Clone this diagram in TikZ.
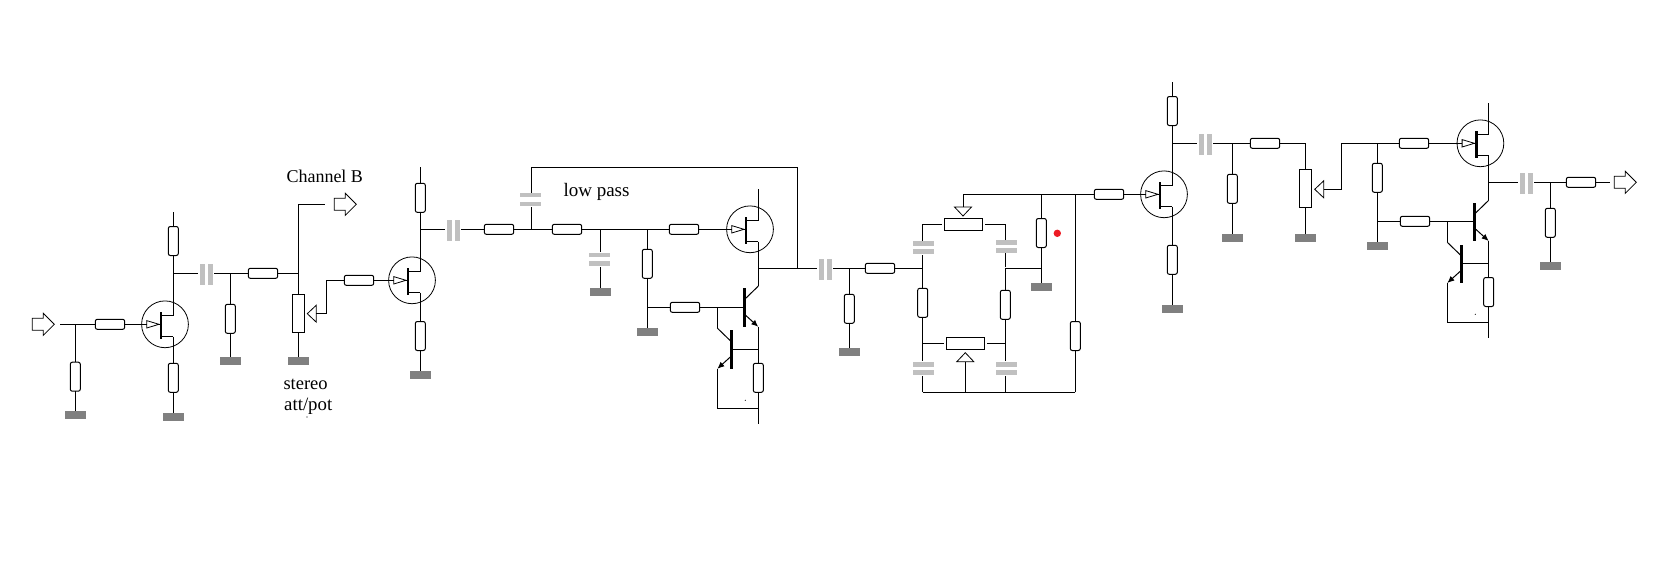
\documentclass[tikz,border=0pt]{standalone}
\usepackage{fontspec}
\setmainfont{Liberation Serif}
\usetikzlibrary{arrows.meta}
\definecolor{gndgray}{HTML}{808080}
\definecolor{capgray}{HTML}{C0C0C0}
\definecolor{dotred}{HTML}{ED1C24}
\tikzset{
  wire/.style={line width=1pt},
  res/.style={draw,line width=1pt,rounded corners=2pt,minimum width=29.4pt,minimum height=10pt,inner sep=0pt,outer sep=0pt},
  vres/.style={res,minimum width=10pt,minimum height=29pt},
  pot/.style={draw,line width=1pt,minimum width=38.4pt,minimum height=12.4pt,inner sep=0pt,outer sep=0pt},
  vpot/.style={pot,minimum width=12.4pt,minimum height=38.4pt},
  gnd/.style={fill=gndgray,minimum width=21pt,minimum height=8pt,inner sep=0pt,outer sep=0pt},
  capv/.style={fill=capgray,minimum width=5pt,minimum height=21pt,inner sep=0pt,outer sep=0pt},
  caph/.style={fill=capgray,minimum width=21pt,minimum height=4.6pt,inner sep=0pt,outer sep=0pt},
  fetring/.style={circle,draw,line width=0.8pt,minimum size=46.8pt,inner sep=0pt,outer sep=0pt},
  fetbar/.style={fill=black,minimum width=2.8pt,minimum height=27pt,inner sep=0pt,outer sep=0pt},
  bjtbar/.style={fill=black,minimum width=3pt,minimum height=38.4pt,inner sep=0pt,outer sep=0pt},
  speck/.style={circle,fill=black,minimum size=1.2pt,inner sep=0pt},
  lbl/.style={anchor=base west,inner sep=0pt,font=\fontsize{18}{18}\selectfont}
}
% name, x, y
\newcommand{\jfet}[3]{
  \node[fetring] (#1) at (#2,#3) {};
  \node[fetbar] (#1b) at ({#2-4},{#3+1}) {};
  \coordinate (#1g) at ({#2-18.3},#3);
  \coordinate (#1d) at ({#2+8.3},{#3-8.6});
  \coordinate (#1s) at ({#2+8.3},{#3+12.4});
  \draw[wire] (#1b.east |- #1d) -- (#1d);
  \draw[wire] (#1b.east |- #1s) -- (#1s);
  \draw[line width=0.8pt] (#1g) -- ++(0,3.7) -- ++(12.3,-3.7) -- ++(-12.3,-3.7) -- cycle;
  \draw[wire] ({#2-6},#3) -- (#1b.west |- #1g);
}
% name, x, y, side
\newcommand{\bjt}[4]{
  \node[bjtbar] (#1) at (#2,#3) {};
  \coordinate (#1ci) at ({#2+#4*1},{#3-8.8});
  \coordinate (#1ei) at ({#2+#4*1},{#3+7.5});
  \coordinate (#1c) at ({#2+#4*14},{#3-21.4});
  \coordinate (#1e) at ({#2+#4*14},{#3+19.3});
  \draw[wire] (#1ci) -- (#1c);
  \draw[wire,-{Latex[length=7pt,width=6pt]}] (#1ei) -- (#1e);
}
% name, tip x, tip y, direction x, direction y
\newcommand{\wiper}[5]{
  \coordinate (#1) at ({#2+9*#4},{#3+9*#5});
  \draw[line width=0.8pt] (#2,#3) -- ({#2+9*#4+8.5*#5},{#3+9*#5+8.5*#4}) -- ({#2+9*#4-8.5*#5},{#3+9*#5-8.5*#4}) -- cycle;
}
% left x, y
\newcommand{\sigarrow}[2]{
  \draw[line width=0.8pt] (#1,{#2-6}) -- ({#1+11},{#2-6}) -- ({#1+11},{#2-11}) -- ({#1+22},#2) -- ({#1+11},{#2+11}) -- ({#1+11},{#2+6}) -- (#1,{#2+6}) -- cycle;
}
\begin{document}
\begin{tikzpicture}[x=1pt,y=-1pt]
  \useasboundingbox (0,0) rectangle (1670,586);

  % first stage
  \jfet{QA}{165.0}{324.3}
  \jfet{QB}{412.0}{280.3}
  \sigarrow{32.3}{324.3}
  \sigarrow{334.3}{204.3}
  \node[res]  (RA1) at ( 110.0,324.3) {};
  \node[vres] (RA2) at (  75.3,376.7) {};
  \node[vres] (RA3) at ( 173.3,241.0) {};
  \node[vres] (RA4) at ( 173.3,377.8) {};
  \node[res]  (RA5) at ( 263.0,273.3) {};
  \node[vres] (RA6) at ( 230.3,318.8) {};
  \node[vpot] (PA)  at ( 298.3,313.5) {};
  \node[gnd]  (GA1) at (  75.3,414.8) {};
  \node[gnd]  (GA2) at ( 173.3,417.0) {};
  \node[gnd]  (GA3) at ( 230.3,361.2) {};
  \node[gnd]  (GA4) at ( 298.3,361.2) {};
  \node[capv] (CA1) at ( 202.3,274.5) {};
  \node[capv] (CA2) at ( 210.7,274.5) {};
  \node[res]  (RB1) at ( 359.0,280.3) {};
  \node[vres] (RB2) at ( 420.3,197.8) {};
  \node[vres] (RB3) at ( 420.3,336.0) {};
  \node[gnd]  (GB)  at ( 420.3,375.0) {};
  \node[speck] (SPA) at ( 307.0,417.0) {};
  \coordinate (INa) at (  60.0,324.3);
  \coordinate (XA1) at (  75.3,324.3);
  \coordinate (XA2) at ( 173.3,273.3);
  \coordinate (XA3) at ( 230.3,273.3);
  \coordinate (XA4) at ( 298.3,273.3);
  \coordinate (XA5) at ( 298.3,204.3);
  \coordinate (CHB) at ( 325.0,204.3);
  \coordinate (TA1) at ( 173.3,212.3);
  \coordinate (TB1) at ( 420.3,167.3);
  \coordinate (XB0) at ( 326.7,280.3);
  \coordinate (XB1) at ( 420.3,229.3);
  \wiper{WA}{307.3}{313.7}{1}{0}

  \draw[wire] (INa) -- (RA1.west);
  \draw[wire] (RA1.east) -- (QAg);
  \draw[wire] (XA1) -- (RA2.north);
  \draw[wire] (RA2.south) -- (GA1.north);
  \draw[wire] (TA1) -- (RA3.north);
  \draw[wire] (RA3.south) -- (QAd);
  \draw[wire] (QAs) -- (RA4.north);
  \draw[wire] (RA4.south) -- (GA2.north);
  \draw[wire,shorten >=2pt] (XA2) -- (XA2 -| CA1.west);
  \draw[wire,shorten <=1pt] (XA2 -| CA2.east) -- (RA5.west);
  \draw[wire] (RA5.east) -- (XA4);
  \draw[wire] (XA3) -- (RA6.north);
  \draw[wire] (RA6.south) -- (GA3.north);
  \draw[wire] (XA5) -- (PA.north);
  \draw[wire] (XA5) -- (CHB);
  \draw[wire] (PA.south) -- (GA4.north);
  \draw[wire] (WA) -| (XB0) -- (RB1.west);
  \draw[wire] (RB1.east) -- (QBg);
  \draw[wire] (TB1) -- (RB2.north);
  \draw[wire] (RB2.south) -- (QBd);
  \draw[wire] (QBs) -- (RB3.north);
  \draw[wire] (RB3.south) -- (GB.north);

  % low pass stage
  \jfet{QC}{750.0}{229.3}
  \bjt{TA}{744.3}{307.5}{1}
  \bjt{TB}{731.3}{349.5}{-1}
  \node[capv] (CB1) at ( 449.5,230.5) {};
  \node[capv] (CB2) at ( 457.5,230.5) {};
  \node[res]  (RC1) at ( 499.0,229.3) {};
  \node[caph] (CC1) at ( 530.5,195.0) {};
  \node[caph] (CC2) at ( 530.5,203.8) {};
  \node[res]  (RC2) at ( 567.0,229.3) {};
  \node[caph] (CD1) at ( 599.5,255.0) {};
  \node[caph] (CD2) at ( 599.5,263.5) {};
  \node[gnd]  (GC1) at ( 600.3,292.0) {};
  \node[vres] (RC3) at ( 647.3,263.8) {};
  \node[gnd]  (GC2) at ( 647.3,332.0) {};
  \node[res]  (RC4) at ( 684.0,229.3) {};
  \node[res]  (RC5) at ( 685.0,307.3) {};
  \node[vres] (RC6) at ( 758.3,377.8) {};
  \node[speck] (SPB) at ( 745.3,400.3) {};
  \coordinate (XC1) at ( 531.3,229.3);
  \coordinate (XC2) at ( 531.3,167.3);
  \coordinate (XC3) at ( 600.3,229.3);
  \coordinate (XC4) at ( 647.3,229.3);
  \coordinate (XC5) at ( 647.3,307.3);
  \coordinate (XC6) at ( 717.3,307.3);
  \coordinate (XC7) at ( 758.3,268.3);
  \coordinate (XC8) at ( 797.3,268.3);
  \coordinate (XC9) at ( 758.3,349.3);
  \coordinate (XC0) at ( 758.3,408.3);
  \coordinate (TC1) at ( 758.3,189.3);
  \coordinate (BC1) at ( 758.3,423.7);

  \draw[wire,shorten >=2pt] (XB1) -- (XB1 -| CB1.west);
  \draw[wire,shorten <=1pt] (XB1 -| CB2.east) -- (RC1.west);
  \draw[wire] (RC1.east) -- (RC2.west);
  \draw[wire,shorten >=1pt] (XC1) -- (XC1 |- CC2.south);
  \draw[wire] (XC1 |- CC1.north) -- (XC2) -| (XC8);
  \draw[wire] (RC2.east) -- (RC4.west);
  \draw[wire] (RC4.east) -- (QCg);
  \draw[wire,shorten >=1pt] (XC3) -- (XC3 |- CD1.north);
  \draw[wire,shorten <=1pt] (XC3 |- CD2.south) -- (GC1.north);
  \draw[wire] (XC4) -- (RC3.north);
  \draw[wire] (RC3.south) -- (GC2.north);
  \draw[wire] (XC5) -- (RC5.west);
  \draw[wire] (RC5.east) -- (TA.west |- RC5);
  \draw[wire] (XC6) -- (TBc);
  \draw[wire] (TC1) -- (QCd);
  \draw[wire] (QCs) -- (TAc);
  \draw[wire] (TAe) -- (RC6.north);
  \draw[wire] (RC6.south) -- (BC1);
  \draw[wire] (TB.east |- XC9) -- (XC9);
  \draw[wire] (TBe) |- (XC0);

  % twin t
  \jfet{QD}{1164.0}{194.3}
  \node[capv] (CE1) at ( 821.5,269.5) {};
  \node[capv] (CE2) at ( 829.7,269.5) {};
  \node[vres] (RD1) at ( 849.3,308.8) {};
  \node[gnd]  (GD1) at ( 849.3,352.0) {};
  \node[res]  (RD2) at ( 880.0,268.3) {};
  \node[pot]  (PB)  at ( 963.5,224.5) {};
  \node[pot]  (PC)  at ( 965.5,343.5) {};
  \node[caph] (CF1) at ( 923.5,243.5) {};
  \node[caph] (CF2) at ( 923.5,251.5) {};
  \node[caph] (CG1) at (1006.5,242.5) {};
  \node[caph] (CG2) at (1006.5,250.5) {};
  \node[vres] (RD3) at ( 922.7,302.8) {};
  \node[vres] (RD4) at (1005.3,304.8) {};
  \node[caph] (CH1) at ( 923.5,364.5) {};
  \node[caph] (CH2) at ( 923.5,372.5) {};
  \node[caph] (CI1) at (1006.5,364.5) {};
  \node[caph] (CI2) at (1006.5,372.5) {};
  \node[vres] (RD5) at (1075.3,336.0) {};
  \node[vres] (RD6) at (1041.3,233.0) {};
  \node[gnd]  (GD2) at (1041.3,287.0) {};
  \node[res]  (RD7) at (1109.0,194.3) {};
  \node[circle,fill=dotred,minimum size=7.4pt,inner sep=0pt] (DOT) at (1057.3,233.3) {};
  \node[vres] (RD8) at (1172.3,111.0) {};
  \node[vres] (RD9) at (1172.3,259.8) {};
  \node[gnd]  (GD3) at (1172.3,309.0) {};
  \coordinate (XD1) at ( 849.3,268.3);
  \coordinate (XD2) at ( 922.7,268.3);
  \coordinate (XD3) at ( 922.7,224.3);
  \coordinate (XD4) at (1005.3,224.3);
  \coordinate (XD5) at (1005.3,268.3);
  \coordinate (XD6) at (1041.3,268.3);
  \coordinate (XD7) at ( 922.7,343.5);
  \coordinate (XD8) at (1005.3,343.5);
  \coordinate (XD9) at ( 922.7,392.3);
  \coordinate (XE1) at (1005.3,392.3);
  \coordinate (XE2) at (1075.3,392.3);
  \coordinate (XE3) at (1075.3,194.3);
  \coordinate (XE4) at (1041.3,194.3);
  \coordinate (XE5) at ( 963.0,194.3);
  \coordinate (TD1) at (1172.3, 82.3);
  \wiper{WB}{963.0}{216.0}{0}{-1}
  \wiper{WC}{965.3}{352.7}{0}{1}

  \draw[wire,shorten >=2pt] (XC7) -- (XC7 -| CE1.west);
  \draw[wire,shorten <=1pt] (XC7 -| CE2.east) -- (RD2.west);
  \draw[wire] (XD1) -- (RD1.north);
  \draw[wire] (RD1.south) -- (GD1.north);
  \draw[wire] (RD2.east) -- (XD2);
  \draw[wire,shorten >=1pt] (XD2) -- (XD2 |- CF2.south);
  \draw[wire,shorten >=2pt] (XD2 |- CF1.north) |- (PB.west);
  \draw[wire,shorten >=2pt] (XD4 |- CG1.north) |- (PB.east);
  \draw[wire,shorten <=1pt] (XD5) -- (XD5 |- CG2.south);
  \draw[wire] (XD5) -- (XD6);
  \draw[wire] (XD2) -- (RD3.north);
  \draw[wire] (XD5) -- (RD4.north);
  \draw[wire] (RD3.south) -- (XD7);
  \draw[wire] (RD4.south) -- (XD8);
  \draw[wire,shorten >=2pt] (XD7) -- (PC.west);
  \draw[wire,shorten >=2pt] (XD8) -- (PC.east);
  \draw[wire,shorten >=1pt] (XD7) -- (XD7 |- CH1.north);
  \draw[wire,shorten >=1pt] (XD8) -- (XD8 |- CI1.north);
  \draw[wire,shorten <=1pt] (XD7 |- CH2.south) -- (XD9);
  \draw[wire,shorten <=1pt] (XD8 |- CI2.south) -- (XE1);
  \draw[wire] (XD9) -- (XE2);
  \draw[wire] (WC) -- (WC |- XD9);
  \draw[wire] (XE2) -- (RD5.south);
  \draw[wire] (RD5.north) -- (XE3);
  \draw[wire] (WB) -- (XE5) -- (RD7.west);
  \draw[wire] (XE4) -- (RD6.north);
  \draw[wire] (RD6.south) -- (GD2.north);
  \draw[wire] (RD7.east) -- (QDg);
  \draw[wire] (TD1) -- (RD8.north);
  \draw[wire] (RD8.south) -- (QDd);
  \draw[wire] (QDs) -- (RD9.north);
  \draw[wire] (RD9.south) -- (GD3.north);

  % output stage
  \jfet{QE}{1480.4}{143.3}
  \bjt{TC}{1474.7}{221.7}{1}
  \bjt{TD}{1461.3}{263.7}{-1}
  \sigarrow{1614.3}{182.3}
  \node[capv] (CK1) at (1201.5,144.5) {};
  \node[capv] (CK2) at (1209.5,144.5) {};
  \node[vres] (RF1) at (1232.3,188.8) {};
  \node[gnd]  (GF1) at (1232.3,238.0) {};
  \node[res]  (RF2) at (1265.0,143.3) {};
  \node[vpot] (PD)  at (1305.3,188.3) {};
  \node[gnd]  (GF2) at (1305.3,238.0) {};
  \node[res]  (RG1) at (1414.0,143.3) {};
  \node[vres] (RG2) at (1377.3,177.8) {};
  \node[gnd]  (GG)  at (1377.3,246.0) {};
  \node[res]  (RG3) at (1415.0,221.3) {};
  \node[vres] (RG4) at (1488.7,292.0) {};
  \node[capv] (CL1) at (1522.5,183.5) {};
  \node[capv] (CL2) at (1530.5,183.5) {};
  \node[vres] (RH1) at (1550.3,222.8) {};
  \node[gnd]  (GH)  at (1550.3,266.0) {};
  \node[res]  (RH2) at (1581.0,182.3) {};
  \node[speck] (SPC) at (1475.3,314.3) {};
  \coordinate (XF1) at (1172.3,143.3);
  \coordinate (XF2) at (1232.3,143.3);
  \coordinate (XF3) at (1305.3,143.3);
  \coordinate (XF4) at (1341.3,143.3);
  \coordinate (XF5) at (1377.3,143.3);
  \coordinate (XF6) at (1377.3,221.3);
  \coordinate (XF7) at (1447.3,221.3);
  \coordinate (XF8) at (1488.7,263.3);
  \coordinate (XF9) at (1488.7,322.0);
  \coordinate (XG1) at (1488.7,182.3);
  \coordinate (XG2) at (1550.3,182.3);
  \coordinate (TE1) at (1488.7,103.3);
  \coordinate (BE1) at (1488.7,337.7);
  \coordinate (OUT) at (1609.7,182.3);
  \wiper{WD}{1314.7}{189.3}{1}{0}

  \draw[wire,shorten >=2pt] (XF1) -- (XF1 -| CK1.west);
  \draw[wire,shorten <=1pt] (XF1 -| CK2.east) -- (RF2.west);
  \draw[wire] (XF2) -- (RF1.north);
  \draw[wire] (RF1.south) -- (GF1.north);
  \draw[wire] (RF2.east) -- (XF3) -- (PD.north);
  \draw[wire] (PD.south) -- (GF2.north);
  \draw[wire] (WD) -| (XF4) -- (RG1.west);
  \draw[wire] (RG1.east) -- (QEg);
  \draw[wire] (XF5) -- (RG2.north);
  \draw[wire] (RG2.south) -- (GG.north);
  \draw[wire] (XF6) -- (RG3.west);
  \draw[wire] (RG3.east) -- (TC.west |- RG3);
  \draw[wire] (XF7) -- (TDc);
  \draw[wire] (TE1) -- (QEd);
  \draw[wire] (QEs) -- (TCc);
  \draw[wire] (TCe) -- (RG4.north);
  \draw[wire] (RG4.south) -- (BE1);
  \draw[wire] (TD.east |- XF8) -- (XF8);
  \draw[wire] (TDe) |- (XF9);
  \draw[wire,shorten >=2pt] (XG1) -- (XG1 -| CL1.west);
  \draw[wire,shorten <=1pt] (XG1 -| CL2.east) -- (RH2.west);
  \draw[wire] (XG2) -- (RH1.north);
  \draw[wire] (RH1.south) -- (GH.north);
  \draw[wire] (RH2.east) -- (OUT);

  \node[lbl] (LCH) at (286.3,182.7) {Channel B};
  \node[lbl,font=\fontsize{18.5}{18}\selectfont] (LST) at (283.3,389.0) {stereo};
  \node[lbl,font=\fontsize{18.8}{18}\selectfont] (LAT) at (284.0,410.7) {att/pot};
  \node[lbl,font=\fontsize{19}{18}\selectfont] (LLP) at (563.3,196.7) {low pass};
\end{tikzpicture}
\end{document}
